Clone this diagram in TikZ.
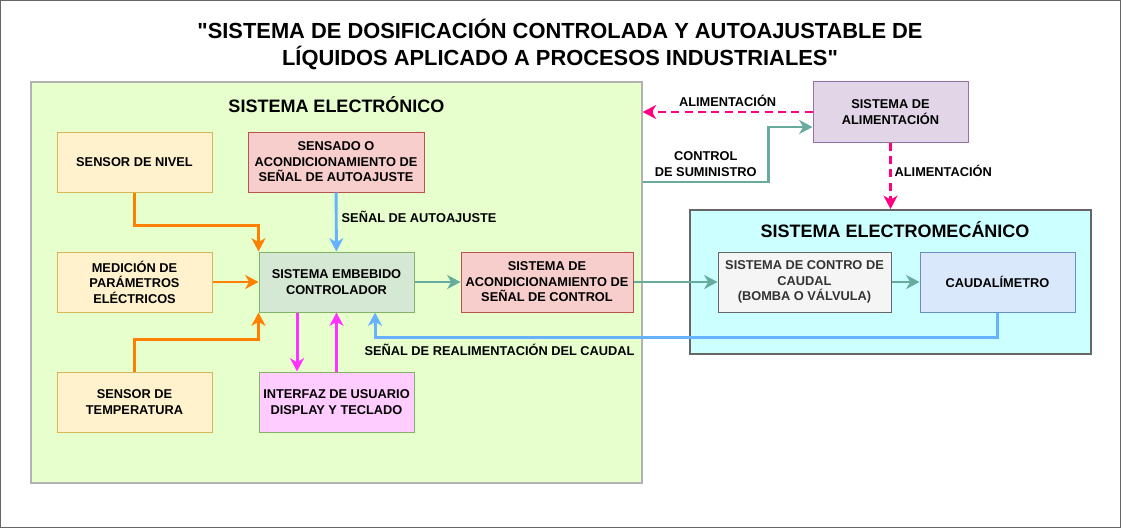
\documentclass[tikz,border=0pt]{standalone}
\usepackage{fontspec}
\setmainfont{Liberation Sans}
\newfontfamily\titfont{Liberation Sans}
\usetikzlibrary{arrows.meta}

\definecolor{verdeclaro}{HTML}{E6FFCC}
\definecolor{cian}{HTML}{CCFFFF}
\definecolor{amarillo}{HTML}{FFF2CC}
\definecolor{amarilloborde}{HTML}{D6B656}
\definecolor{rojizo}{HTML}{F8CECC}
\definecolor{rojizoborde}{HTML}{B85450}
\definecolor{verdebox}{HTML}{D5E8D4}
\definecolor{verdeborde}{HTML}{82B366}
\definecolor{rosa}{HTML}{FFCCFF}
\definecolor{lila}{HTML}{E1D5E7}
\definecolor{lilaborde}{HTML}{9673A6}
\definecolor{grisclaro}{HTML}{F5F5F5}
\definecolor{azulclaro}{HTML}{DAE8FC}
\definecolor{azulborde}{HTML}{6C8EBF}
\definecolor{naranja}{HTML}{FF8000}
\definecolor{celeste}{HTML}{66B2FF}
\definecolor{turquesa}{HTML}{67AB9F}
\definecolor{magenta}{HTML}{FF33FF}
\definecolor{fucsia}{HTML}{FF0080}

\begin{document}
\begin{tikzpicture}[
  x=0.75pt, y=-0.75pt,
  >={Stealth[length=10pt,width=10.5pt,inset=3pt]},
  every node/.style={font=\fontsize{9.6}{11.6}\selectfont\bfseries, align=center, inner sep=1pt},
  bloque/.style={minimum width=116.25pt, minimum height=45pt, line width=0.75pt},
  sensor/.style={bloque, draw=amarilloborde, fill=amarillo},
  acond/.style={bloque, draw=rojizoborde, fill=rojizo},
  ctrl/.style={bloque, draw=verdeborde, fill=verdebox},
  interfaz/.style={bloque, draw=verdeborde, fill=rosa},
  alim/.style={bloque, draw=lilaborde, fill=lila},
  actuador/.style={bloque, draw=black!60, fill=grisclaro, text=black!80},
  medidor/.style={bloque, draw=azulborde, fill=azulclaro},
  grupo/.style={font=\fontsize{13.5}{16}\selectfont\bfseries},
  fl/.style={->, line width=2.2pt},
  etq/.style={font=\fontsize{9.6}{11.6}\selectfont\bfseries, text=black}
]
\useasboundingbox (0,0) rectangle (1121,528);
\draw[black!60, line width=0.75pt] (0.5,0.5) rectangle (1120.5,527.5);

% titulo
\node[font=\titfont\fontsize{16.4}{20.3}\selectfont\bfseries] (titulo) at (560,44)
  {"SISTEMA DE DOSIFICACIÓN CONTROLADA Y AUTOAJUSTABLE DE\\LÍQUIDOS APLICADO A PROCESOS INDUSTRIALES"};

% contenedores
\node[draw=black!30, fill=verdeclaro, line width=1.1pt, minimum width=458.25pt, minimum height=300.75pt] (ELEC) at (336.5,282.5) {};
\node[grupo] (tELEC) at (336.5,105) {SISTEMA ELECTRÓNICO};
\node[draw=black!60, fill=cian, line width=1.5pt, minimum width=300.75pt, minimum height=108pt] (EM) at (890.5,282) {};
\node[grupo] (tEM) at (895,230) {SISTEMA ELECTROMECÁNICO};

% bloques
\node[sensor] (SN) at (134.5,162) {SENSOR DE NIVEL};
\node[acond, minimum width=132pt] (SAA) at (336,162) {SENSADO O\\ACONDICIONAMIENTO DE\\SEÑAL DE AUTOAJUSTE};
\node[sensor] (MPE) at (134.5,282) {MEDICIÓN DE\\PARÁMETROS\\ELÉCTRICOS};
\node[ctrl] (EMB) at (336.5,282) {SISTEMA EMBEBIDO\\CONTROLADOR};
\node[acond, minimum width=129pt] (SAC) at (547,282) {SISTEMA DE\\ACONDICIONAMIENTO DE\\SEÑAL DE CONTROL};
\node[sensor] (ST) at (134.5,402) {SENSOR DE\\TEMPERATURA};
\node[interfaz] (INT) at (336.5,402) {INTERFAZ DE USUARIO\\DISPLAY Y TECLADO};
\node[alim] (ALI) at (890.5,112) {SISTEMA DE\\ALIMENTACIÓN};
\node[actuador, minimum width=129.75pt] (SCC) at (804.5,282) {SISTEMA DE CONTRO DE\\CAUDAL\\(BOMBA O VÁLVULA)};
\node[medidor] (CM) at (997.5,282) {CAUDALÍMETRO};

% conexiones
\draw[fl, naranja] (SN.south) -- ++(0,33) -| (EMB.north west);
\draw[fl, naranja] (MPE) -- (EMB);
\draw[fl, naranja] (ST.north) -- ++(0,-32) -| (EMB.south west);
\draw[fl, celeste] (SAA) -- node[etq, right=2pt, pos=0.42]{SEÑAL DE AUTOAJUSTE} (EMB);
\draw[fl, turquesa] (EMB) -- (SAC);
\draw[fl, turquesa] (SAC) -- (SCC);
\draw[fl, turquesa] (SCC) -- (CM);
\draw[fl, magenta] ([xshift=-29.6pt]EMB.south) -- ([xshift=-29.6pt]INT.north);
\draw[fl, magenta] (INT) -- (EMB);
\draw[fl, celeste] (CM.south) -- ++(0,25) -| node[etq, below=3pt, pos=0.4]{SEÑAL DE REALIMENTACIÓN DEL CAUDAL} ([xshift=28.9pt]EMB.south);
\draw[fl, turquesa] ([yshift=75.4pt]ELEC.east) -- node[etq, above=2pt]{CONTROL\\DE SUMINISTRO} ++(126,0) |- ([yshift=-11.25pt]ALI.west);
\draw[fl, fucsia, dashed, dash pattern=on 6pt off 4pt] (ALI.west) -- node[etq, above=2pt]{ALIMENTACIÓN} (ALI.west -| ELEC.east);
\draw[fl, fucsia, dashed, dash pattern=on 6pt off 4pt] (ALI.south) -- node[etq, right=1pt, pos=0.43]{ALIMENTACIÓN} (ALI.south |- EM.north);
\end{tikzpicture}
\end{document}
